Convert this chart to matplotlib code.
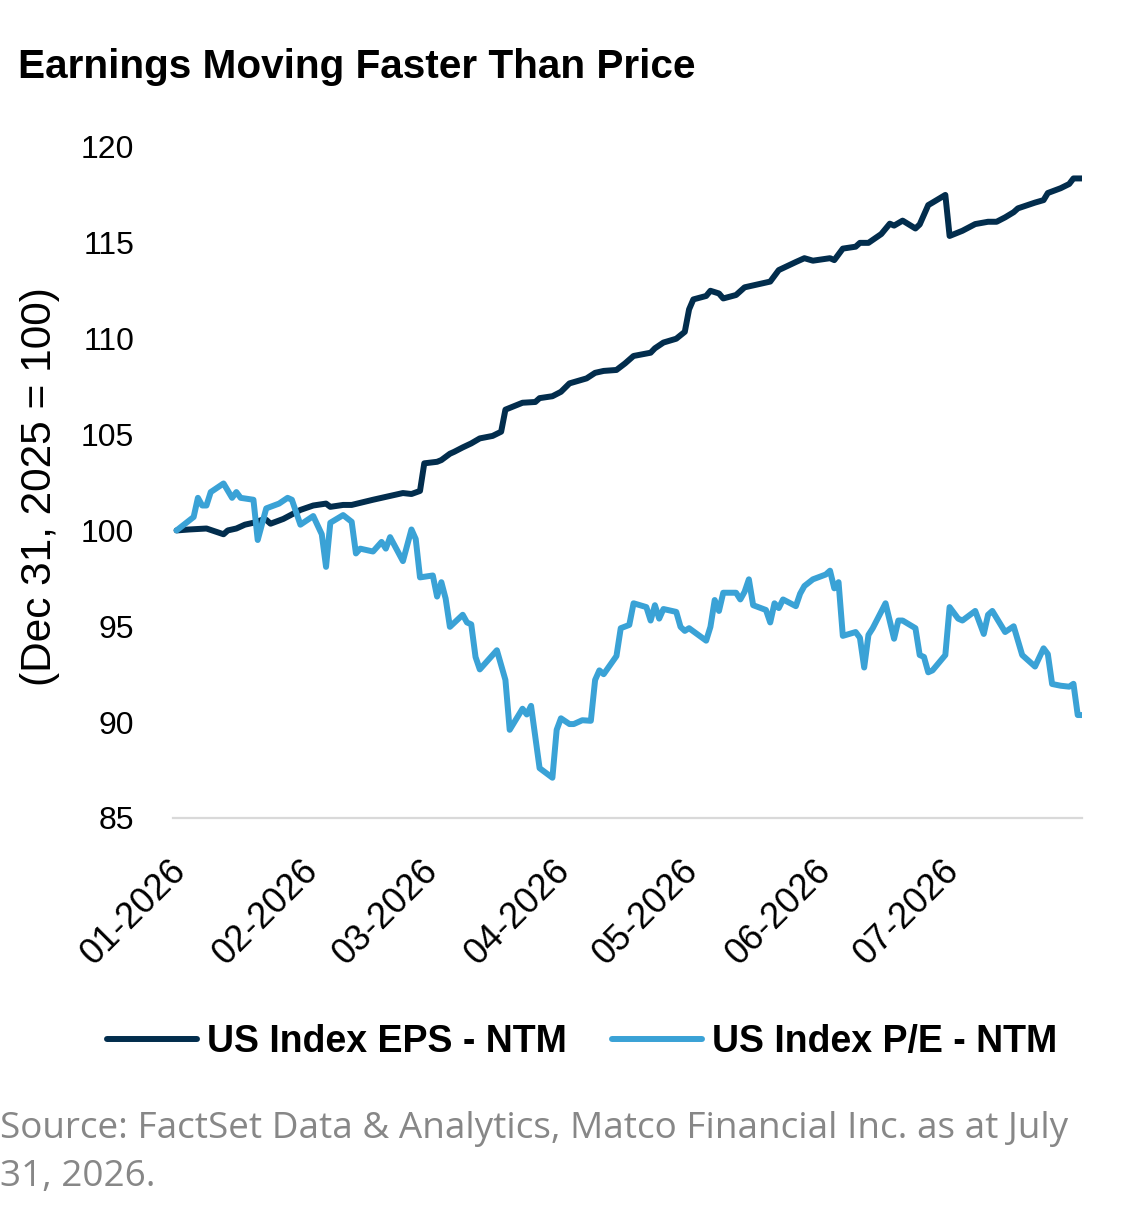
import matplotlib
matplotlib.use("Agg")
import matplotlib.pyplot as plt
import matplotlib.dates as mdates
import pandas as pd

# values (index, Dec 31 2025 = 100)
eps_dates = ["2025-12-31", "2026-01-03", "2026-01-07", "2026-01-11", "2026-01-12",
             "2026-01-14", "2026-01-16", "2026-01-18", "2026-01-20", "2026-01-21",
             "2026-01-22", "2026-01-25", "2026-01-29", "2026-02-01", "2026-02-04",
             "2026-02-05", "2026-02-08", "2026-02-10", "2026-02-15", "2026-02-17",
             "2026-02-20", "2026-02-22", "2026-02-24", "2026-02-26", "2026-02-27",
             "2026-03-02", "2026-03-03", "2026-03-05", "2026-03-06", "2026-03-08",
             "2026-03-10", "2026-03-12", "2026-03-15", "2026-03-17", "2026-03-18",
             "2026-03-22", "2026-03-25", "2026-03-26", "2026-03-29", "2026-03-31",
             "2026-04-02", "2026-04-06", "2026-04-08", "2026-04-10", "2026-04-13",
             "2026-04-15", "2026-04-17", "2026-04-21", "2026-04-22", "2026-04-24",
             "2026-04-27", "2026-04-29", "2026-04-30", "2026-05-01", "2026-05-04",
             "2026-05-05", "2026-05-07", "2026-05-08", "2026-05-11", "2026-05-13",
             "2026-05-19", "2026-05-21", "2026-05-25", "2026-05-27", "2026-05-29",
             "2026-06-02", "2026-06-03", "2026-06-05", "2026-06-08", "2026-06-09",
             "2026-06-11", "2026-06-14", "2026-06-16", "2026-06-17", "2026-06-19",
             "2026-06-22", "2026-06-23", "2026-06-25", "2026-06-26", "2026-06-29",
             "2026-06-30", "2026-07-03", "2026-07-06", "2026-07-09", "2026-07-11",
             "2026-07-13", "2026-07-15", "2026-07-16", "2026-07-20", "2026-07-22",
             "2026-07-23", "2026-07-26", "2026-07-28", "2026-07-29", "2026-07-31"]
eps_values = [100.0, 100.05, 100.1, 99.8, 100.0,
              100.1, 100.3, 100.4, 100.55, 100.55,
              100.35, 100.6, 101.07, 101.3, 101.4,
              101.23, 101.33, 101.33, 101.6, 101.7,
              101.85, 101.95, 101.9, 102.06, 103.5,
              103.58, 103.67, 104.0, 104.1, 104.33,
              104.54, 104.8, 104.93, 105.15, 106.3,
              106.66, 106.7, 106.9, 107.0, 107.23,
              107.67, 107.93, 108.22, 108.32, 108.37,
              108.71, 109.1, 109.27, 109.5, 109.8,
              110.0, 110.36, 111.53, 112.05, 112.23,
              112.5, 112.36, 112.1, 112.28, 112.68,
              112.98, 113.58, 114.0, 114.2, 114.07,
              114.2, 114.1, 114.7, 114.8, 115.0,
              115.0, 115.46, 116.0, 115.9, 116.16,
              115.75, 115.96, 116.97, 117.1, 117.5,
              115.36, 115.63, 115.98, 116.1, 116.1,
              116.33, 116.6, 116.8, 117.1, 117.23,
              117.6, 117.85, 118.07, 118.36, 118.36]

pe_dates = ["2025-12-31", "2026-01-04", "2026-01-05", "2026-01-06", "2026-01-07",
            "2026-01-08", "2026-01-11", "2026-01-13", "2026-01-14", "2026-01-15",
            "2026-01-18", "2026-01-19", "2026-01-21", "2026-01-24", "2026-01-26",
            "2026-01-27", "2026-01-29", "2026-02-01", "2026-02-03", "2026-02-04",
            "2026-02-05", "2026-02-08", "2026-02-10", "2026-02-11", "2026-02-12",
            "2026-02-15", "2026-02-17", "2026-02-18", "2026-02-19", "2026-02-22",
            "2026-02-24", "2026-02-25", "2026-02-26", "2026-03-01", "2026-03-02",
            "2026-03-03", "2026-03-04", "2026-03-05", "2026-03-08", "2026-03-09",
            "2026-03-10", "2026-03-11", "2026-03-12", "2026-03-16", "2026-03-18",
            "2026-03-19", "2026-03-22", "2026-03-23", "2026-03-24", "2026-03-26",
            "2026-03-29", "2026-03-30", "2026-03-31", "2026-04-02", "2026-04-03",
            "2026-04-05", "2026-04-07", "2026-04-08", "2026-04-09", "2026-04-10",
            "2026-04-13", "2026-04-14", "2026-04-16", "2026-04-17", "2026-04-20",
            "2026-04-21", "2026-04-22", "2026-04-23", "2026-04-24", "2026-04-27",
            "2026-04-28", "2026-04-29", "2026-04-30", "2026-05-04", "2026-05-05",
            "2026-05-06", "2026-05-07", "2026-05-08", "2026-05-11", "2026-05-12",
            "2026-05-13", "2026-05-14", "2026-05-15", "2026-05-18", "2026-05-19",
            "2026-05-20", "2026-05-21", "2026-05-22", "2026-05-25", "2026-05-26",
            "2026-05-27", "2026-05-29", "2026-06-01", "2026-06-02", "2026-06-03",
            "2026-06-04", "2026-06-05", "2026-06-08", "2026-06-09", "2026-06-10",
            "2026-06-11", "2026-06-12", "2026-06-15", "2026-06-17", "2026-06-18",
            "2026-06-19", "2026-06-22", "2026-06-23", "2026-06-24", "2026-06-25",
            "2026-06-26", "2026-06-29", "2026-06-30", "2026-07-02", "2026-07-03",
            "2026-07-06", "2026-07-08", "2026-07-09", "2026-07-10", "2026-07-13",
            "2026-07-15", "2026-07-17", "2026-07-20", "2026-07-22", "2026-07-23",
            "2026-07-24", "2026-07-26", "2026-07-28", "2026-07-29", "2026-07-30",
            "2026-07-31"]
pe_values = [100.0, 100.7, 101.7, 101.3, 101.3,
             102.0, 102.45, 101.7, 102.0, 101.7,
             101.6, 99.5, 101.15, 101.4, 101.7,
             101.6, 100.3, 100.75, 99.8, 98.1,
             100.4, 100.8, 100.45, 98.8, 99.05,
             98.9, 99.4, 99.05, 99.65, 98.4,
             100.05, 99.55, 97.55, 97.65, 96.55,
             97.3, 96.45, 94.97, 95.6, 95.2,
             95.1, 93.4, 92.75, 93.75, 92.2,
             89.6, 90.7, 90.4, 90.85, 87.6,
             87.1, 89.6, 90.2, 89.9, 89.9,
             90.1, 90.07, 92.2, 92.7, 92.5,
             93.45, 94.9, 95.07, 96.2, 96.0,
             95.3, 96.1, 95.4, 95.9, 95.75,
             94.97, 94.76, 94.9, 94.25, 94.97,
             96.37, 95.8, 96.75, 96.75, 96.4,
             96.8, 97.45, 96.1, 95.85, 95.2,
             96.2, 95.95, 96.4, 96.05, 96.7,
             97.1, 97.45, 97.7, 97.9, 96.98,
             97.3, 94.5, 94.7, 94.4, 92.85,
             94.55, 94.9, 96.2, 94.35, 95.3,
             95.3, 94.9, 93.5, 93.4, 92.6,
             92.7, 93.5, 96.0, 95.4, 95.3,
             95.8, 94.6, 95.6, 95.8, 94.7,
             95.0, 93.5, 92.9, 93.85, 93.55,
             91.99, 91.9, 91.85, 92.0, 90.37,
             90.37]

eps_label = "US Index EPS - NTM"
pe_label = "US Index P/E - NTM"
eps_color = "#022d4d"
pe_color = "#3aa2d6"

W, H = 1145, 1224
fig = plt.figure(figsize=(W / 100, H / 100), dpi=100)
ax = fig.add_axes([173 / W, 1 - 818 / H, (1082 - 173) / W, (818 - 147) / H])

ax.plot(pd.to_datetime(eps_dates), eps_values, color=eps_color, lw=4.3,
        solid_capstyle="round", solid_joinstyle="round", label=eps_label)
ax.plot(pd.to_datetime(pe_dates), pe_values, color=pe_color, lw=4.3,
        solid_capstyle="round", solid_joinstyle="round", label=pe_label)

ax.set_ylim(85, 120)
ax.set_xlim(pd.Timestamp("2025-12-31") - pd.Timedelta(hours=20), pd.Timestamp("2026-07-31"))
ax.set_yticks(range(85, 121, 5))
ax.xaxis.set_major_locator(mdates.MonthLocator())
ax.xaxis.set_major_formatter(mdates.DateFormatter("%m-%Y"))

for s in ["top", "right", "left"]:
    ax.spines[s].set_visible(False)
ax.spines["bottom"].set_color("#d9d9d9")
ax.spines["bottom"].set_linewidth(1.6)
ax.tick_params(length=0)
ax.tick_params(axis="y", pad=28, labelsize=23)
ax.tick_params(axis="x", pad=34, labelsize=26)
for lab in ax.get_yticklabels() + ax.get_xticklabels():
    lab.set_family("Liberation Sans")
for lab in ax.get_xticklabels():
    lab.set_rotation(45)
    lab.set_ha("right")
    lab.set_va("center")
    lab.set_rotation_mode("anchor")

fig.text(40 / W, 1 - 487 / H, "(Dec 31, 2025 = 100)", rotation=90, ha="center", va="center",
         fontsize=30.5, family="Liberation Sans")

fig.text(18 / W, 1 - 78 / H, "Earnings Moving Faster Than Price", fontsize=29.2,
         fontweight="bold", family="Liberation Sans", ha="left", va="baseline")

leg = fig.legend(loc="center", bbox_to_anchor=(582 / W, 1 - 1042 / H), ncol=2, frameon=False,
                 handlelength=2.4, handletextpad=0.27, columnspacing=1.2,
                 prop={"family": "Liberation Sans", "weight": "bold", "size": 27})

fig.text(0, 1 - 1138 / H, "Source: FactSet Data & Analytics, Matco Financial Inc. as at July",
         fontsize=26.6, color="#878787", family="Open Sans", ha="left", va="baseline")
fig.text(0, 1 - 1186 / H, "31, 2026.", fontsize=26.6, color="#878787", family="Open Sans",
         ha="left", va="baseline")

fig.savefig("out.png", dpi=100)
